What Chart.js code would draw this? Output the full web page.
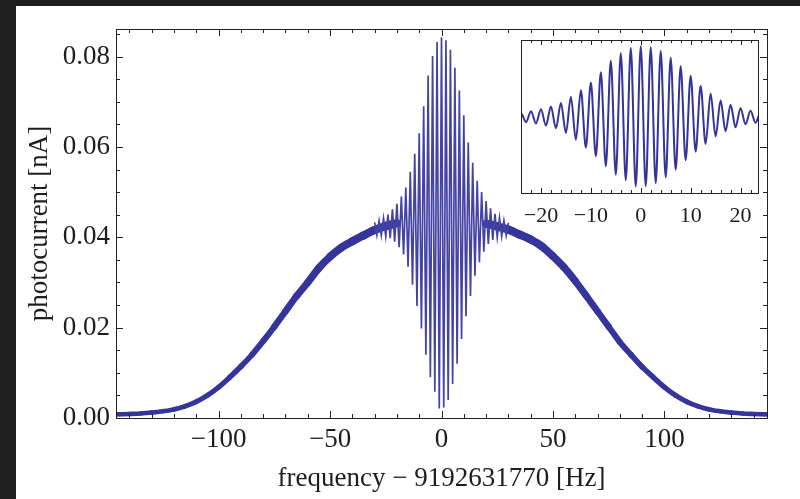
<!DOCTYPE html>
<html>
<head>
<meta charset="utf-8">
<script src="https://cdn.jsdelivr.net/npm/chart.js@4.4.1/dist/chart.umd.min.js"></script>
<style>
  html, body { margin: 0; padding: 0; width: 800px; height: 499px; overflow: hidden; background: #1e1e1e; }
  #panel { position: absolute; left: 16px; top: 6px; width: 784px; height: 493px; background: #fff; }
  #mainChart { position: absolute; left: 0; top: 0; }
  #insetChart { position: absolute; left: 489px; top: 30px; }
</style>
</head>
<body>
<div id="panel">
  <canvas id="mainChart" width="784" height="493"></canvas>
  <canvas id="insetChart" width="262" height="190"></canvas>
</div>
<script>
// Ramsey fringes: photocurrent vs detuning

// central fringes, one value per extremum (peaks at even Hz, dips at odd Hz)
const fringeX = [-30, -29, -28, -27, -26, -25, -24, -23, -22, -21, -20, -19, -18, -17, -16, -15,
  -14, -13, -12, -11, -10, -9, -8, -7, -6, -5, -4, -3, -2, -1, 0,
  1, 2, 3, 4, 5, 6, 7, 8, 9, 10, 11, 12, 13, 14, 15,
  16, 17, 18, 19, 20, 21, 22, 23, 24, 25, 26, 27, 28, 29, 30]
const fringeY = [0.0433, 0.0405, 0.0437, 0.0404, 0.0442, 0.0402, 0.0450, 0.0398, 0.0462, 0.0390, 0.0474, 0.0378,
  0.0490, 0.0362, 0.0510, 0.0335, 0.0545, 0.0295, 0.0585, 0.0248, 0.0630, 0.0198, 0.0690, 0.0140,
  0.0758, 0.0090, 0.0801, 0.0058, 0.0832, 0.0021, 0.0843,
  0.0023, 0.0836, 0.0040, 0.0815, 0.0075, 0.0775, 0.0120, 0.0725, 0.0175, 0.0670, 0.0225,
  0.0610, 0.0270, 0.0565, 0.0315, 0.0525, 0.0345, 0.0500, 0.0368, 0.0480, 0.0385,
  0.0464, 0.0394, 0.0452, 0.0400, 0.0443, 0.0402, 0.0437, 0.0404, 0.0432]

// Rabi pedestal (centre of the noisy band)
const leftWingX = [-146, -140, -135, -130, -125, -120, -115, -110, -105, -100, -95, -90, -85, -80,
  -75, -70, -65, -60, -55, -50, -45, -40, -35, -30, -25, -20]
const leftWingY = [0.0008, 0.0009, 0.0010, 0.0012, 0.0015, 0.0019, 0.0026, 0.0036, 0.0050, 0.0068,
  0.0090, 0.0114, 0.0140, 0.0170, 0.0202, 0.0236, 0.0270, 0.0300, 0.0332, 0.0357, 0.0377, 0.0391,
  0.0404, 0.0416, 0.0425, 0.0431]
const rightWingX = [20, 25, 30, 35, 40, 45, 50, 55, 60, 65, 70, 75, 80, 85, 90, 95, 100,
  105, 110, 115, 120, 125, 130, 135, 140, 146]
const rightWingY = [0.0430, 0.0424, 0.0417, 0.0406, 0.0395, 0.0380, 0.0358, 0.0333, 0.0303, 0.0270,
  0.0236, 0.0202, 0.0168, 0.0140, 0.0113, 0.0090, 0.0068, 0.0050, 0.0036, 0.0026, 0.0019,
  0.0015, 0.0012, 0.0010, 0.0009, 0.0008]

// ticks
const xTicks = [-100, -50, 0, 50, 100]
const yTicks = [0, 0.02, 0.04, 0.06, 0.08]
const insetTicks = [-20, -10, 0, 10, 20]

const xTitle = 'frequency \u2212 9192631770 [Hz]'
const yTitle = 'photocurrent [nA]'

const lineColor = '#34349a'
const fringeColor = '#4444a4'
const textColor = '#1e1e1e'
const serif = "'Liberation Serif', 'Times New Roman', serif"

const pts = (xs, ys) => xs.map((x, i) => ({ x: x, y: ys[i] }))
const minus = v => (v < 0 ? '\u2212' + Math.abs(v) : String(v))
// the noisy band looks thinner near zero signal
const bandWidth = c => 4.5 + 90 * ((c.p0.parsed.y + c.p1.parsed.y) / 2)

// inward ticks on a full frame, like Mathematica's Frame -> True
const framePlugin = {
  id: 'frame',
  beforeDraw(chart, args, opts) {
    if (!opts.fill) return
    const a = chart.chartArea
    chart.ctx.save()
    chart.ctx.fillStyle = '#fff'
    chart.ctx.fillRect(a.left, a.top, a.right - a.left, a.bottom - a.top)
    chart.ctx.restore()
  },
  afterDraw(chart, args, opts) {
    const { ctx, chartArea: a, scales } = chart
    ctx.save()
    ctx.strokeStyle = '#222'
    ctx.lineWidth = 1
    ctx.strokeRect(Math.round(a.left) + 0.5, Math.round(a.top) + 0.5,
      Math.round(a.right - a.left), Math.round(a.bottom - a.top))
    ctx.beginPath()
    const xt = (list, len) => list.forEach(v => {
      const px = Math.round(scales.x.getPixelForValue(v)) + 0.5
      if (px < a.left || px > a.right) return
      ctx.moveTo(px, a.bottom); ctx.lineTo(px, a.bottom - len)
      ctx.moveTo(px, a.top); ctx.lineTo(px, a.top + len)
    })
    const yt = (list, len) => list.forEach(v => {
      const py = Math.round(scales.y.getPixelForValue(v)) + 0.5
      if (py < a.top || py > a.bottom) return
      ctx.moveTo(a.left, py); ctx.lineTo(a.left + len, py)
      ctx.moveTo(a.right, py); ctx.lineTo(a.right - len, py)
    })
    xt(opts.xMajor || [], opts.major)
    xt(opts.xMinor || [], opts.minor)
    yt(opts.yMajor || [], opts.major)
    yt(opts.yMinor || [], opts.minor)
    ctx.stroke()
    ctx.restore()
  }
}

const range = (a, b, s) => { const r = []; for (let v = a; v <= b + 1e-9; v += s) r.push(+v.toFixed(4)); return r }

const wingStyle = {
  borderColor: lineColor, borderWidth: 7, pointRadius: 0, tension: 0.3,
  borderCapStyle: 'round', borderJoinStyle: 'round',
  segment: { borderWidth: bandWidth, borderCapStyle: () => 'round' }
}

const mainChart = new Chart(document.getElementById('mainChart'), {
  type: 'line',
  data: {
    datasets: [
      { data: pts(fringeX, fringeY), borderColor: fringeColor, borderWidth: 1.7, pointRadius: 0, tension: 0 },
      Object.assign({ data: pts(leftWingX, leftWingY) }, wingStyle),
      Object.assign({ data: pts(rightWingX, rightWingY) }, wingStyle)
    ]
  },
  options: {
    responsive: false,
    animation: false,
    layout: { padding: { left: 0, right: 33, top: 23, bottom: 0 } },
    plugins: {
      legend: { display: false },
      tooltip: { enabled: false },
      frame: {
        major: 7, minor: 4,
        xMajor: xTicks, xMinor: range(-140, 140, 10),
        yMajor: yTicks, yMinor: range(0, 0.085, 0.005)
      }
    },
    scales: {
      x: {
        type: 'linear', min: -146, max: 146,
        grid: { display: false, drawTicks: false }, border: { display: false },
        afterBuildTicks: s => { s.ticks = xTicks.map(v => ({ value: v })) },
        afterFit: s => { s.height = 81 },
        ticks: { callback: v => minus(v), font: { family: serif, size: 27 }, color: textColor, padding: 6, maxRotation: 0, autoSkip: false },
        title: { display: true, text: xTitle, font: { family: serif, size: 27 }, color: textColor, padding: { top: 0, bottom: 4 } }
      },
      y: {
        type: 'linear', min: 0, max: 0.0861,
        grid: { display: false, drawTicks: false }, border: { display: false },
        afterBuildTicks: s => { s.ticks = yTicks.map(v => ({ value: v })) },
        afterFit: s => { s.width = 100 },
        ticks: { callback: v => v.toFixed(2), font: { family: serif, size: 27 }, color: textColor, padding: 6 },
        title: { display: true, text: yTitle, font: { family: serif, size: 27 }, color: textColor, padding: { top: 8, bottom: 0 } }
      }
    }
  },
  plugins: [framePlugin]
})

const insetChart = new Chart(document.getElementById('insetChart'), {
  type: 'line',
  data: {
    datasets: [
      { data: pts(fringeX, fringeY), borderColor: lineColor, borderWidth: 2, pointRadius: 0, cubicInterpolationMode: 'monotone' }
    ]
  },
  options: {
    responsive: false,
    animation: false,
    layout: { padding: { left: 16, right: 9, top: 4, bottom: 0 } },
    plugins: {
      legend: { display: false },
      tooltip: { enabled: false },
      frame: {
        fill: true, major: 5, minor: 3,
        xMajor: insetTicks, xMinor: range(-24, 22, 2)
      }
    },
    scales: {
      x: {
        type: 'linear', min: -24, max: 23.5,
        grid: { display: false }, border: { display: false },
        afterBuildTicks: s => { s.ticks = insetTicks.map(v => ({ value: v })) },
        afterFit: s => { s.height = 33 },
        ticks: { callback: v => minus(v), font: { family: serif, size: 22 }, color: textColor, padding: 2, maxRotation: 0, autoSkip: false }
      },
      y: {
        type: 'linear', min: -0.0017, max: 0.0879, display: false
      }
    }
  },
  plugins: [framePlugin]
})
</script>
</body>
</html>
